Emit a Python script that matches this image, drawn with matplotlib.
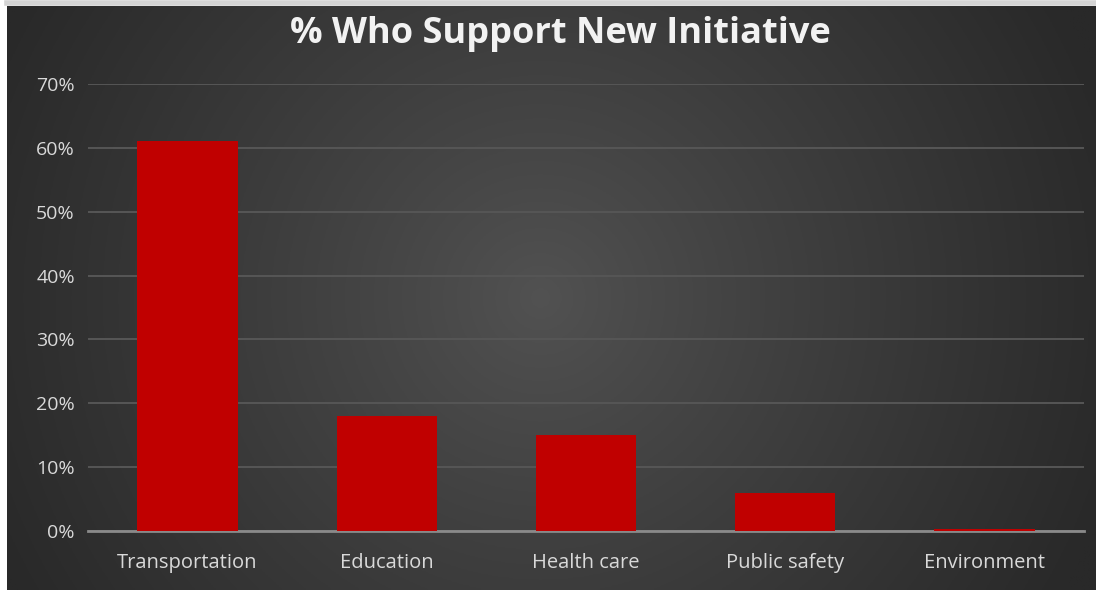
import numpy as np
import matplotlib
matplotlib.use("Agg")
import matplotlib.pyplot as plt
from matplotlib.ticker import PercentFormatter

categories = ["Transportation", "Education", "Health care", "Public safety", "Environment"]
support = [0.61, 0.18, 0.15, 0.06, 0.003]
yticks = [0, 0.1, 0.2, 0.3, 0.4, 0.5, 0.6, 0.7]
title = "% Who Support New Initiative"

W, H = 1096, 590
fig = plt.figure(figsize=(W / 100, H / 100), dpi=100, facecolor="white")

# background panel with radial gradient
bx0, by1 = 7 / W, 1 - 6 / H
bg = fig.add_axes([bx0, 0, 1 - bx0, by1])
bg.set_axis_off()
nx, ny = 400, 220
xx, yy = np.meshgrid(np.linspace(0, 1, nx), np.linspace(0, 1, ny))
cx, cy = 0.49, 0.5
r = np.sqrt(((xx - cx) * 1.0) ** 2 + ((yy - cy) * 0.54) ** 2) / 0.55
r = np.clip(r, 0, 1)
inner, outer = 0x52 / 255, 0x29 / 255
val = inner + (outer - inner) * r ** 0.9
img = np.dstack([val, val, val])
bg.imshow(img, extent=[0, 1, 0, 1], aspect="auto", origin="lower")
fig.add_artist(plt.Line2D([bx0, 1], [1 - 3 / H, 1 - 3 / H], transform=fig.transFigure,
                          color="#d4d4d4", lw=4))

ax = fig.add_axes([88 / W, 1 - 531 / H, (1084 - 88) / W, (531 - 84) / H])
ax.patch.set_alpha(0)
x = np.arange(len(categories))
ax.bar(x, support, width=0.505, color="#C00000", zorder=3)
ax.set_xlim(-0.5, len(categories) - 0.5)
ax.set_ylim(0, 0.7)
ax.set_yticks(yticks)
ax.yaxis.set_major_formatter(PercentFormatter(1.0, decimals=0))
ax.set_xticks(x)
ax.set_xticklabels(categories)
ax.grid(axis="y", color="#565656", lw=1.4, zorder=0)
for s in ["top", "right", "left"]:
    ax.spines[s].set_visible(False)
ax.spines["bottom"].set_color("#8a8a8a")
ax.spines["bottom"].set_linewidth(2)
ax.spines["bottom"].set_zorder(2)
ax.tick_params(axis="both", length=0, colors="#d9d9d9", labelsize=14.5)
ax.tick_params(axis="y", pad=9.5, labelsize=14)
ax.tick_params(axis="x", pad=16)
for lab in ax.get_xticklabels() + ax.get_yticklabels():
    lab.set_fontfamily("Open Sans")

fig.text(560 / W, 1 - 34 / H, title, ha="center", va="center", color="#f2f2f2",
         fontsize=26, fontweight="bold", fontfamily="Open Sans")

fig.savefig("out.png", dpi=100, facecolor="white")
